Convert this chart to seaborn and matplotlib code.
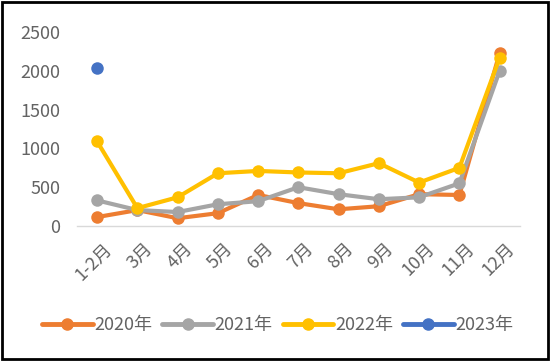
import numpy as np
import pandas as pd
import matplotlib
matplotlib.use("Agg")
import matplotlib.pyplot as plt
import matplotlib.transforms as mtrans
import seaborn as sns
from matplotlib.patches import Rectangle

# --- data ---
MONTHS = ["1-2月", "3月", "4月", "5月", "6月", "7月", "8月", "9月", "10月", "11月", "12月"]
Y2020 = [115, 205, 100, 165, 400, 295, 215, 255, 410, 400, 2230]
Y2021 = [330, 205, 180, 280, 320, 500, 410, 345, 370, 550, 2000]
Y2022 = [1090, 230, 370, 680, 710, 690, 680, 810, 560, 750, 2170]
Y2023 = [2040] + [np.nan] * 10
YEARS = ["2020年", "2021年", "2022年", "2023年"]
COLORS = ["#ED7D31", "#A5A5A5", "#FFC000", "#4472C4"]

sns.set_theme(style="white")
plt.rcParams["font.family"] = ["Noto Sans CJK SC", "DejaVu Sans"]

frames = []
for name, vals in zip(YEARS, [Y2020, Y2021, Y2022, Y2023]):
    frames.append(pd.DataFrame({"idx": range(len(MONTHS)), "val": vals, "year": name}))
df = pd.concat(frames, ignore_index=True).dropna()

fig = plt.figure(figsize=(5.5, 3.61), dpi=100)
ax = fig.add_axes([0.14, 0.374, 0.805, 0.537])

sns.lineplot(data=df, x="idx", y="val", hue="year", hue_order=YEARS,
             palette=COLORS, marker="o", markersize=9, markeredgewidth=0,
             linewidth=3, sort=False, legend=False, ax=ax)

ax.set_xlim(-0.5, 10.5)
ax.set_ylim(0, 2500)
ax.set_yticks(range(0, 2501, 500))
ax.set_xticks(range(len(MONTHS)))
ax.set_xticklabels(MONTHS, rotation=45, ha="right", va="top", rotation_mode="anchor")
ax.set_xlabel("")
ax.set_ylabel("")
ax.tick_params(axis="both", colors="#636363", labelsize=13, length=0)
ax.tick_params(axis="y", pad=12)
ax.tick_params(axis="x", pad=10)
shift = mtrans.ScaledTranslation(6 / 100, 0, fig.dpi_scale_trans)
for lbl in ax.get_xticklabels():
    lbl.set_transform(lbl.get_transform() + shift)
for s in ["top", "right", "left"]:
    ax.spines[s].set_visible(False)
ax.spines["bottom"].set_color("#D9D9D9")
ax.spines["bottom"].set_linewidth(1)
ax.patch.set_alpha(0)

# legend
handles = [plt.Line2D([], [], color=c, linewidth=3.5, marker="o", markersize=8) for c in COLORS]
leg = fig.legend(handles, YEARS, loc="center", bbox_to_anchor=(0.505, 0.1), ncol=4,
                 frameon=False, fontsize=13, handlelength=2.8, handletextpad=0.1,
                 columnspacing=0.55)
for t in leg.get_texts():
    t.set_color("#636363")

# outer frame
fig.patches.append(Rectangle((0.004, 0.006), 0.992, 0.988, transform=fig.transFigure,
                             fill=False, edgecolor="black", linewidth=2))

fig.savefig("out.png", dpi=100)
